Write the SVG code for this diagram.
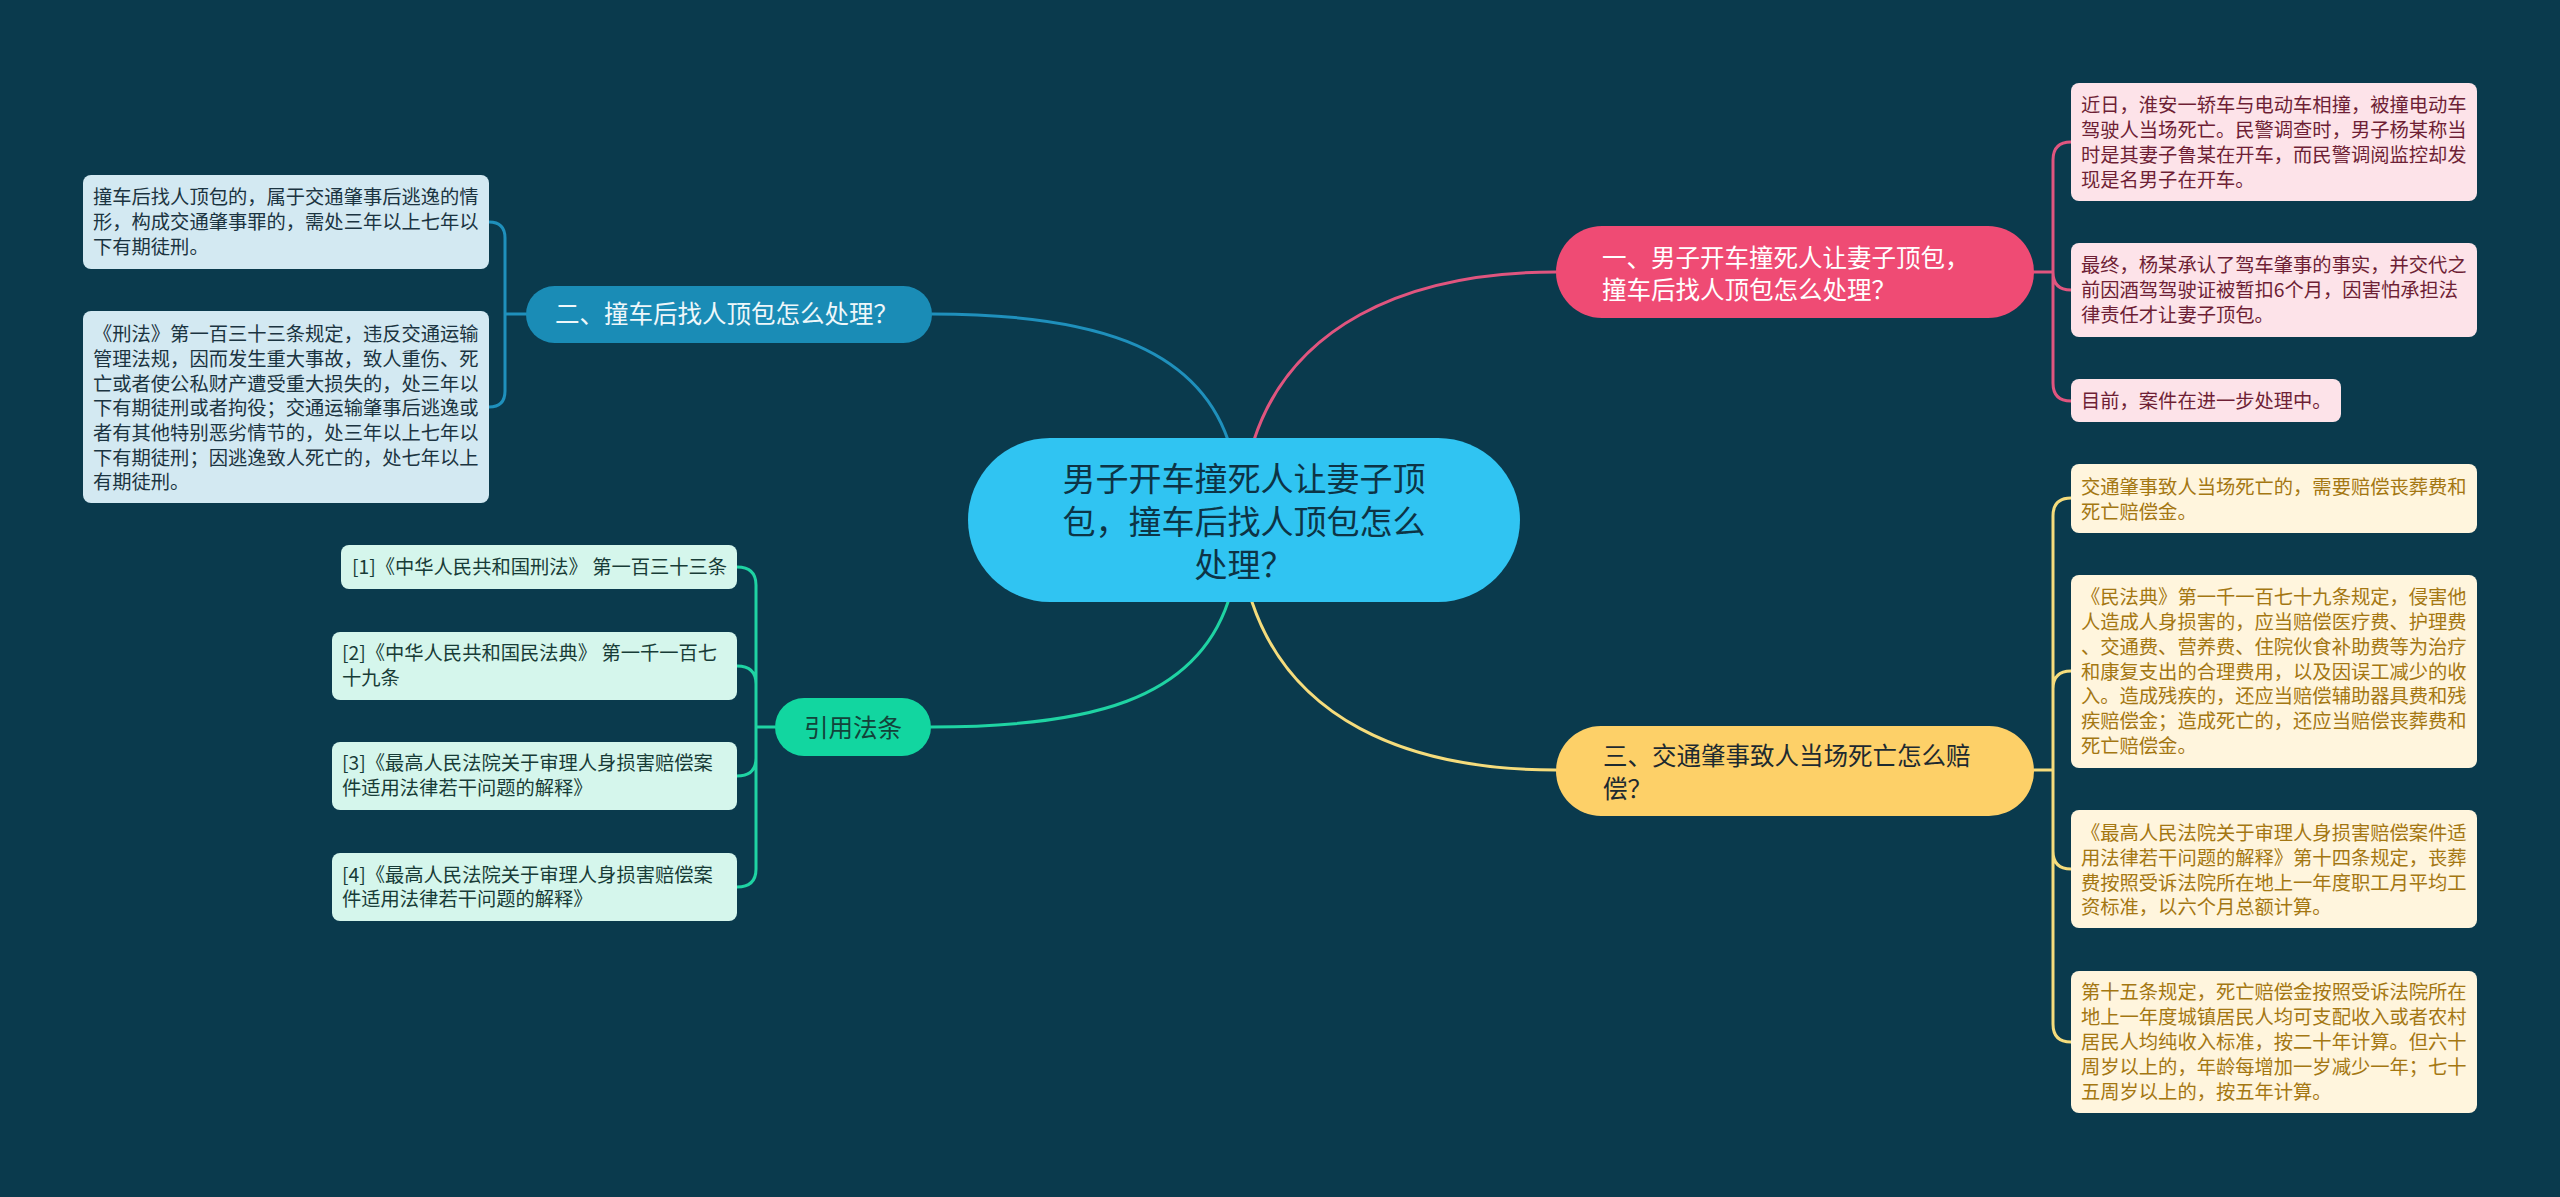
<svg xmlns="http://www.w3.org/2000/svg" width="2560" height="1197" viewBox="0 0 2560 1197">
<style>
text{font-family:"Noto Sans CJK SC","Noto Sans",sans-serif;}
.c{fill:none;stroke-width:3;stroke-linecap:round;}
.cp{stroke:#e0557f;}
.cb{stroke:#1f90bc;}
.cy{stroke:#f5dc7c;}
.cg{stroke:#1fd3a3;}
.s{font-size:19.3px;}
.b{font-size:24.5px;}
.tp{fill:#6e1f35;}
.tb{fill:#1b3441;}
.ty{fill:#a47712;}
.tg{fill:#183c37;}
</style>
<rect width="2560" height="1197" fill="#0a3a4d"/>
<g id="connectors">
<path class="c cb" d="M1228,440 C1195,345 1090,314 932,314"/>
<path class="c cp" d="M1254,440 C1290,330 1400,272 1556,272"/>
<path class="c cg" d="M1228,602 C1195,700 1090,727 931,727"/>
<path class="c cy" d="M1252,602 C1290,715 1400,770 1556,770"/>
<path class="c cb" d="M526,314 H505 M505,314 V238 Q505,222 489,222 M505,314 V391 Q505,407 489,407"/>
<path class="c cp" d="M2034,272 H2053 M2053,272 V160 Q2053,142 2071,142 M2053,272 Q2053,290 2071,290 M2053,272 V383 Q2053,401 2071,401"/>
<path class="c cy" d="M2034,770 H2053 M2053,770 V516 Q2053,498 2071,498 M2053,770 V689 Q2053,671 2071,671 M2053,770 V851 Q2053,869 2071,869 M2053,770 V1024 Q2053,1042 2071,1042"/>
<path class="c cg" d="M775,727 H756 M756,727 V585 Q756,567 737,567 M756,727 V684 Q756,666 737,666 M756,727 V758 Q756,776 737,776 M756,727 V869 Q756,887 737,887"/>
</g>
<g id="center">
<rect x="968" y="438" width="552" height="164" rx="82" fill="#30c4f2"/>
<text x="1244" font-size="33" fill="#0d3446" text-anchor="middle"><tspan x="1244" y="491">男子开车撞死人让妻子顶</tspan><tspan x="1244" y="534">包，撞车后找人顶包怎么</tspan><tspan x="1244" y="577">处理？</tspan></text>
</g>
<g id="branch1">
<rect x="1556" y="226" width="478" height="92" rx="46" fill="#ef4b74"/>
<text class="b" fill="#ffffff"><tspan x="1602" y="267">一、男子开车撞死人让妻子顶包，</tspan><tspan x="1602" y="299">撞车后找人顶包怎么处理？</tspan></text>
</g>
<g id="branch2">
<rect x="526" y="286" width="406" height="57" rx="28.5" fill="#1a8cb6"/>
<text class="b" fill="#eef7fa" x="555" y="323">二、撞车后找人顶包怎么处理？</text>
</g>
<g id="branch3">
<rect x="1556" y="726" width="478" height="90" rx="45" fill="#fdd068"/>
<text class="b" fill="#1d2a30"><tspan x="1603" y="765">三、交通肇事致人当场死亡怎么赔</tspan><tspan x="1603" y="798">偿？</tspan></text>
</g>
<g id="branch4">
<rect x="775" y="698" width="156" height="58" rx="29" fill="#12d6a0"/>
<text class="b" fill="#12433a" x="853" y="737" text-anchor="middle">引用法条</text>
</g>
<g id="p1">
<rect x="2071" y="83" width="406" height="118" rx="8" fill="#fde3e9"/>
<text class="s tp"><tspan x="2081" y="112">近日，淮安一轿车与电动车相撞，被撞电动车</tspan><tspan x="2081" y="137">驾驶人当场死亡。民警调查时，男子杨某称当</tspan><tspan x="2081" y="162">时是其妻子鲁某在开车，而民警调阅监控却发</tspan><tspan x="2081" y="187">现是名男子在开车。</tspan></text>
</g>
<g id="p2">
<rect x="2071" y="243" width="406" height="94" rx="8" fill="#fde3e9"/>
<text class="s tp"><tspan x="2081" y="272">最终，杨某承认了驾车肇事的事实，并交代之</tspan><tspan x="2081" y="297">前因酒驾驾驶证被暂扣6个月，因害怕承担法</tspan><tspan x="2081" y="322">律责任才让妻子顶包。</tspan></text>
</g>
<g id="p3">
<rect x="2071" y="379" width="270" height="43" rx="8" fill="#fde3e9"/>
<text class="s tp" x="2081" y="408">目前，案件在进一步处理中。</text>
</g>
<g id="b1">
<rect x="83" y="175" width="406" height="94" rx="8" fill="#d3e9f2"/>
<text class="s tb"><tspan x="93" y="204">撞车后找人顶包的，属于交通肇事后逃逸的情</tspan><tspan x="93" y="229">形，构成交通肇事罪的，需处三年以上七年以</tspan><tspan x="93" y="254">下有期徒刑。</tspan></text>
</g>
<g id="b2">
<rect x="83" y="311" width="406" height="192" rx="8" fill="#d3e9f2"/>
<text class="s tb"><tspan x="93" y="341">《刑法》第一百三十三条规定，违反交通运输</tspan><tspan x="93" y="366">管理法规，因而发生重大事故，致人重伤、死</tspan><tspan x="93" y="391">亡或者使公私财产遭受重大损失的，处三年以</tspan><tspan x="93" y="415">下有期徒刑或者拘役；交通运输肇事后逃逸或</tspan><tspan x="93" y="440">者有其他特别恶劣情节的，处三年以上七年以</tspan><tspan x="93" y="465">下有期徒刑；因逃逸致人死亡的，处七年以上</tspan><tspan x="93" y="489">有期徒刑。</tspan></text>
</g>
<g id="y1">
<rect x="2071" y="464" width="406" height="69" rx="8" fill="#fff5dd"/>
<text class="s ty"><tspan x="2081" y="494">交通肇事致人当场死亡的，需要赔偿丧葬费和</tspan><tspan x="2081" y="519">死亡赔偿金。</tspan></text>
</g>
<g id="y2">
<rect x="2071" y="575" width="406" height="193" rx="8" fill="#fff5dd"/>
<text class="s ty"><tspan x="2081" y="604">《民法典》第一千一百七十九条规定，侵害他</tspan><tspan x="2081" y="629">人造成人身损害的，应当赔偿医疗费、护理费</tspan><tspan x="2081" y="654">、交通费、营养费、住院伙食补助费等为治疗</tspan><tspan x="2081" y="679">和康复支出的合理费用，以及因误工减少的收</tspan><tspan x="2081" y="703">入。造成残疾的，还应当赔偿辅助器具费和残</tspan><tspan x="2081" y="728">疾赔偿金；造成死亡的，还应当赔偿丧葬费和</tspan><tspan x="2081" y="753">死亡赔偿金。</tspan></text>
</g>
<g id="y3">
<rect x="2071" y="810" width="406" height="118" rx="8" fill="#fff5dd"/>
<text class="s ty"><tspan x="2081" y="840">《最高人民法院关于审理人身损害赔偿案件适</tspan><tspan x="2081" y="865">用法律若干问题的解释》第十四条规定，丧葬</tspan><tspan x="2081" y="890">费按照受诉法院所在地上一年度职工月平均工</tspan><tspan x="2081" y="914">资标准，以六个月总额计算。</tspan></text>
</g>
<g id="y4">
<rect x="2071" y="971" width="406" height="142" rx="8" fill="#fff5dd"/>
<text class="s ty"><tspan x="2081" y="999">第十五条规定，死亡赔偿金按照受诉法院所在</tspan><tspan x="2081" y="1024">地上一年度城镇居民人均可支配收入或者农村</tspan><tspan x="2081" y="1049">居民人均纯收入标准，按二十年计算。但六十</tspan><tspan x="2081" y="1074">周岁以上的，年龄每增加一岁减少一年；七十</tspan><tspan x="2081" y="1099">五周岁以上的，按五年计算。</tspan></text>
</g>
<g id="g1">
<rect x="341" y="545" width="396" height="44" rx="8" fill="#d5f6ec"/>
<text class="s tg" x="352" y="574">[1]《中华人民共和国刑法》 第一百三十三条</text>
</g>
<g id="g2">
<rect x="332" y="632" width="405" height="68" rx="8" fill="#d5f6ec"/>
<text class="s tg"><tspan x="342" y="660">[2]《中华人民共和国民法典》 第一千一百七</tspan><tspan x="342" y="685">十九条</tspan></text>
</g>
<g id="g3">
<rect x="332" y="742" width="405" height="68" rx="8" fill="#d5f6ec"/>
<text class="s tg"><tspan x="342" y="770">[3]《最高人民法院关于审理人身损害赔偿案</tspan><tspan x="342" y="795">件适用法律若干问题的解释》</tspan></text>
</g>
<g id="g4">
<rect x="332" y="853" width="405" height="68" rx="8" fill="#d5f6ec"/>
<text class="s tg"><tspan x="342" y="882">[4]《最高人民法院关于审理人身损害赔偿案</tspan><tspan x="342" y="906">件适用法律若干问题的解释》</tspan></text>
</g>
</svg>
